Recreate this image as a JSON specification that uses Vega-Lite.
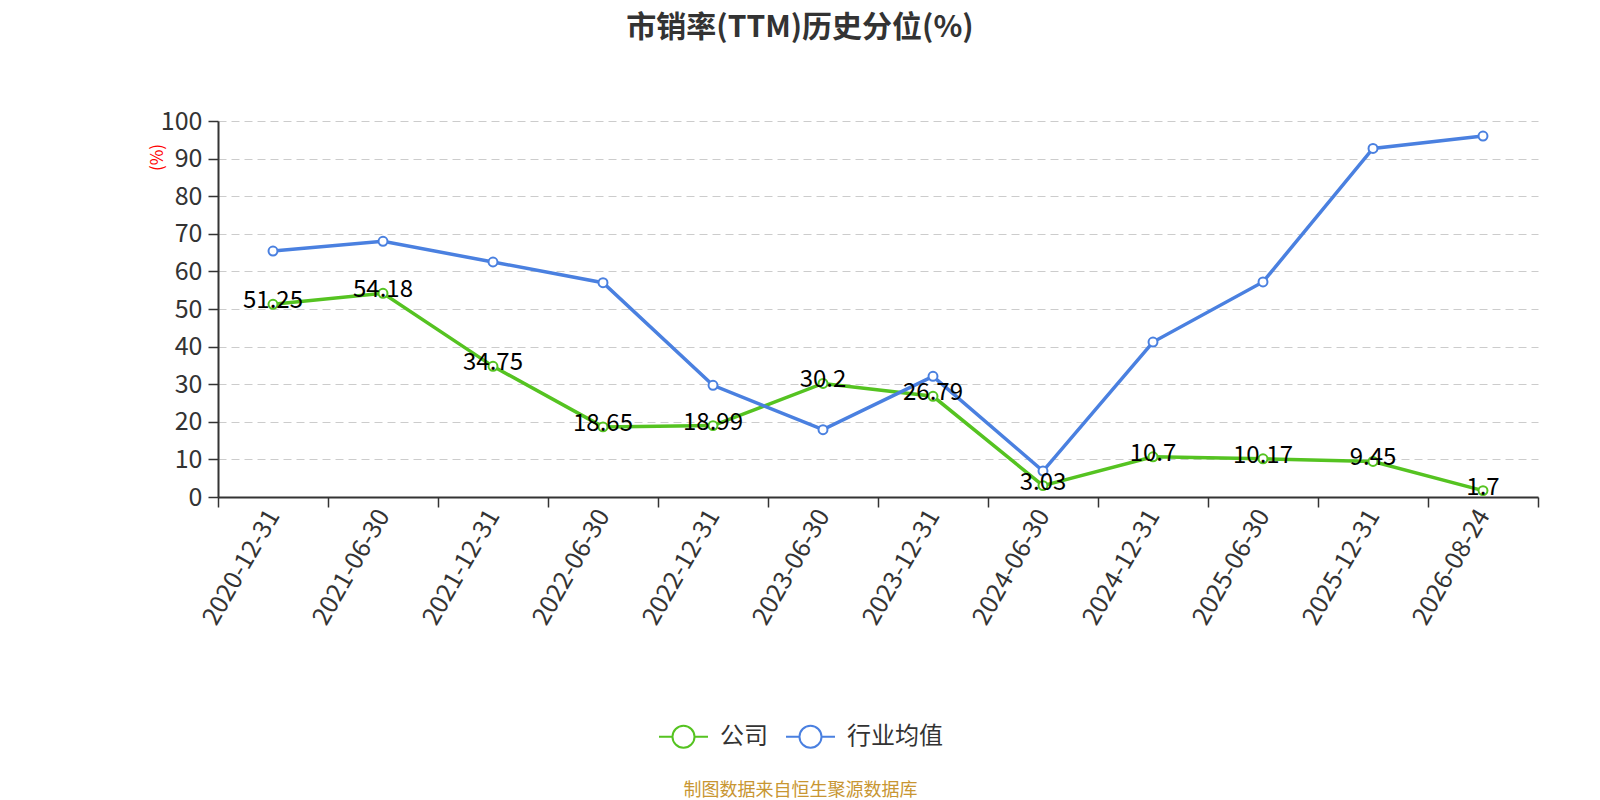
{
  "$schema": "https://vega.github.io/schema/vega-lite/v6.json",
  "description": "市销率(TTM)历史分位: 公司 vs 行业均值",
  "autosize": "none",
  "width": 1320,
  "height": 376,
  "padding": {"left": 218, "top": 121, "right": 62, "bottom": 303},
  "background": "white",
  "title": {
    "text": "市销率(TTM)历史分位(%)",
    "fontSize": 30,
    "fontWeight": "bold",
    "color": "#333333",
    "anchor": "middle",
    "frame": "group",
    "dx": -78,
    "offset": 66
  },
  "config": {
    "font": "Noto Sans CJK SC",
    "view": {"stroke": null},
    "axis": {"domainColor": "#333333", "tickColor": "#333333", "labelColor": "#333333"}
  },
  "data": {
    "values": [
      {"date": "2020-12-31", "series": "公司", "value": 51.25},
      {"date": "2021-06-30", "series": "公司", "value": 54.18},
      {"date": "2021-12-31", "series": "公司", "value": 34.75},
      {"date": "2022-06-30", "series": "公司", "value": 18.65},
      {"date": "2022-12-31", "series": "公司", "value": 18.99},
      {"date": "2023-06-30", "series": "公司", "value": 30.2},
      {"date": "2023-12-31", "series": "公司", "value": 26.79},
      {"date": "2024-06-30", "series": "公司", "value": 3.03},
      {"date": "2024-12-31", "series": "公司", "value": 10.7},
      {"date": "2025-06-30", "series": "公司", "value": 10.17},
      {"date": "2025-12-31", "series": "公司", "value": 9.45},
      {"date": "2026-08-24", "series": "公司", "value": 1.7},
      {"date": "2020-12-31", "series": "行业均值", "value": 65.4},
      {"date": "2021-06-30", "series": "行业均值", "value": 68.0},
      {"date": "2021-12-31", "series": "行业均值", "value": 62.5},
      {"date": "2022-06-30", "series": "行业均值", "value": 57.0},
      {"date": "2022-12-31", "series": "行业均值", "value": 29.7},
      {"date": "2023-06-30", "series": "行业均值", "value": 17.9},
      {"date": "2023-12-31", "series": "行业均值", "value": 32.1},
      {"date": "2024-06-30", "series": "行业均值", "value": 6.9},
      {"date": "2024-12-31", "series": "行业均值", "value": 41.2},
      {"date": "2025-06-30", "series": "行业均值", "value": 57.2},
      {"date": "2025-12-31", "series": "行业均值", "value": 92.7},
      {"date": "2026-08-24", "series": "行业均值", "value": 96.0}
    ]
  },
  "encoding": {
    "x": {
      "field": "date",
      "type": "ordinal",
      "sort": null,
      "scale": {"type": "band", "paddingInner": 0, "paddingOuter": 0},
      "axis": {
        "title": "制图数据来自恒生聚源数据库",
        "titleX": 582,
        "titleY": 293,
        "titleFontSize": 18,
        "titleFontWeight": "normal",
        "titleColor": "#c89632",
        "titleAlign": "center",
        "titleBaseline": "middle",
        "labelAngle": -60,
        "labelFontSize": 25,
        "labelPadding": 4,
        "tickBand": "extent",
        "tickSize": 10,
        "tickWidth": 1.5,
        "domainWidth": 2,
        "grid": false
      }
    },
    "y": {
      "field": "value",
      "type": "quantitative",
      "scale": {"domain": [0, 100], "nice": false},
      "axis": {
        "title": "(%)",
        "titleColor": "#ff0000",
        "titleFontSize": 17,
        "titleFontWeight": "normal",
        "titleAngle": 270,
        "titleX": -61,
        "titleY": 36,
        "titleAlign": "center",
        "titleBaseline": "middle",
        "values": [0, 10, 20, 30, 40, 50, 60, 70, 80, 90, 100],
        "labelFontSize": 25,
        "labelPadding": 6,
        "tickSize": 10,
        "tickWidth": 1.5,
        "domainWidth": 2,
        "grid": true,
        "gridDash": [8, 5],
        "gridColor": "#cccccc",
        "gridWidth": 1
      }
    },
    "color": {
      "field": "series",
      "type": "nominal",
      "scale": {"domain": ["公司", "行业均值"], "range": ["#55c321", "#4a80e0"]},
      "legend": {
        "title": null,
        "orient": "none",
        "legendX": 440,
        "legendY": 590,
        "direction": "horizontal",
        "symbolType": "M-1,0L-0.45,0M0.45,0L1,0M0.45,0A0.45,0.45,0,1,1,-0.45,0A0.45,0.45,0,1,1,0.45,0",
        "symbolSize": 2400,
        "symbolStrokeWidth": 2,
        "symbolFillColor": "white",
        "labelFontSize": 24,
        "labelColor": "#333333",
        "labelOffset": 11,
        "columnPadding": 14
      }
    }
  },
  "layer": [
    {"mark": {"type": "line", "strokeWidth": 3.5}},
    {"mark": {"type": "point", "filled": false, "fill": "white", "strokeWidth": 2, "size": 80, "opacity": 1}},
    {
      "transform": [{"filter": "datum.series === '公司'"}],
      "mark": {"type": "text", "fontSize": 24, "baseline": "middle", "dy": -3},
      "encoding": {
        "text": {"field": "value", "type": "quantitative"},
        "color": {"value": "#000000"}
      }
    }
  ]
}
